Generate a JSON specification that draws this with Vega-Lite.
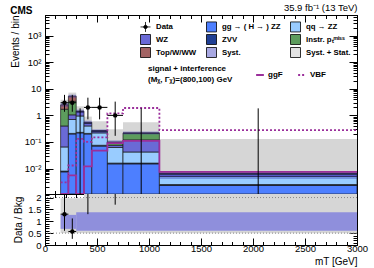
{
  "$schema": "https://vega.github.io/schema/vega-lite/v6.json",
  "background": "white",
  "padding": {"left": 9, "top": 2, "right": 4, "bottom": 0},
  "spacing": 0,
  "bounds": "flush",
  "config": {
    "font": "Liberation Sans",
    "view": {"stroke": "black", "strokeWidth": 1},
    "axis": {"grid": false, "domainColor": "black", "tickColor": "black", "labelColor": "black", "titleColor": "black", "labelFontSize": 9.5, "titleFontSize": 10, "titleFontWeight": "normal", "labelFont": "Liberation Sans", "titleFont": "Liberation Sans", "labelOverlap": false, "labelFlush": false}
  },
  "datasets": {
    "stack": [
      {"lo":150,"hi":225,"comp":"gg → ( H → ) ZZ","y0":0.0005,"y1":0.0075},
      {"lo":150,"hi":225,"comp":"ZVV","y0":0.0075,"y1":0.008},
      {"lo":150,"hi":225,"comp":"qq → ZZ","y0":0.008,"y1":0.065},
      {"lo":150,"hi":225,"comp":"WZ","y0":0.065,"y1":0.4},
      {"lo":150,"hi":225,"comp":"Instr. pₜᵐⁱˢˢ","y0":0.4,"y1":1.7},
      {"lo":150,"hi":225,"comp":"Top/W/WW","y0":1.7,"y1":2.5},
      {"lo":225,"hi":300,"comp":"gg → ( H → ) ZZ","y0":0.0005,"y1":0.2},
      {"lo":225,"hi":300,"comp":"ZVV","y0":0.2,"y1":0.21},
      {"lo":225,"hi":300,"comp":"qq → ZZ","y0":0.21,"y1":0.7},
      {"lo":225,"hi":300,"comp":"WZ","y0":0.7,"y1":1.05},
      {"lo":225,"hi":300,"comp":"Instr. pₜᵐⁱˢˢ","y0":1.05,"y1":3.4},
      {"lo":225,"hi":300,"comp":"Top/W/WW","y0":3.4,"y1":5.3},
      {"lo":300,"hi":375,"comp":"gg → ( H → ) ZZ","y0":0.0005,"y1":0.22},
      {"lo":300,"hi":375,"comp":"ZVV","y0":0.22,"y1":0.23},
      {"lo":300,"hi":375,"comp":"qq → ZZ","y0":0.23,"y1":0.95},
      {"lo":300,"hi":375,"comp":"WZ","y0":0.95,"y1":1.35},
      {"lo":300,"hi":375,"comp":"Instr. pₜᵐⁱˢˢ","y0":1.35,"y1":1.4},
      {"lo":300,"hi":375,"comp":"Top/W/WW","y0":1.4,"y1":1.45},
      {"lo":375,"hi":450,"comp":"gg → ( H → ) ZZ","y0":0.0005,"y1":0.2},
      {"lo":375,"hi":450,"comp":"ZVV","y0":0.2,"y1":0.21},
      {"lo":375,"hi":450,"comp":"qq → ZZ","y0":0.21,"y1":0.4},
      {"lo":375,"hi":450,"comp":"WZ","y0":0.4,"y1":0.5},
      {"lo":375,"hi":450,"comp":"Instr. pₜᵐⁱˢˢ","y0":0.5,"y1":0.52},
      {"lo":375,"hi":450,"comp":"Top/W/WW","y0":0.52,"y1":0.55},
      {"lo":450,"hi":600,"comp":"gg → ( H → ) ZZ","y0":0.0005,"y1":0.07},
      {"lo":450,"hi":600,"comp":"ZVV","y0":0.07,"y1":0.075},
      {"lo":450,"hi":600,"comp":"qq → ZZ","y0":0.075,"y1":0.22},
      {"lo":450,"hi":600,"comp":"WZ","y0":0.22,"y1":0.25},
      {"lo":450,"hi":600,"comp":"Instr. pₜᵐⁱˢˢ","y0":0.25,"y1":0.26},
      {"lo":450,"hi":600,"comp":"Top/W/WW","y0":0.26,"y1":0.265},
      {"lo":600,"hi":750,"comp":"gg → ( H → ) ZZ","y0":0.0005,"y1":0.015},
      {"lo":600,"hi":750,"comp":"ZVV","y0":0.015,"y1":0.016},
      {"lo":600,"hi":750,"comp":"qq → ZZ","y0":0.016,"y1":0.062},
      {"lo":600,"hi":750,"comp":"WZ","y0":0.062,"y1":0.075},
      {"lo":600,"hi":750,"comp":"Instr. pₜᵐⁱˢˢ","y0":0.075,"y1":0.095},
      {"lo":600,"hi":750,"comp":"Top/W/WW","y0":0.095,"y1":0.1},
      {"lo":750,"hi":1100,"comp":"gg → ( H → ) ZZ","y0":0.0005,"y1":0.015},
      {"lo":750,"hi":1100,"comp":"ZVV","y0":0.015,"y1":0.016},
      {"lo":750,"hi":1100,"comp":"qq → ZZ","y0":0.016,"y1":0.042},
      {"lo":750,"hi":1100,"comp":"WZ","y0":0.042,"y1":0.12},
      {"lo":750,"hi":1100,"comp":"Instr. pₜᵐⁱˢˢ","y0":0.12,"y1":0.21},
      {"lo":750,"hi":1100,"comp":"Top/W/WW","y0":0.21,"y1":0.22},
      {"lo":1100,"hi":3000,"comp":"gg → ( H → ) ZZ","y0":0.0005,"y1":0.0023},
      {"lo":1100,"hi":3000,"comp":"ZVV","y0":0.0023,"y1":0.0025},
      {"lo":1100,"hi":3000,"comp":"qq → ZZ","y0":0.0025,"y1":0.005},
      {"lo":1100,"hi":3000,"comp":"WZ","y0":0.005,"y1":0.006},
      {"lo":1100,"hi":3000,"comp":"Instr. pₜᵐⁱˢˢ","y0":0.006,"y1":0.0065},
      {"lo":1100,"hi":3000,"comp":"Top/W/WW","y0":0.0065,"y1":0.0068}
    ],
    "sysstat": [
      {"lo":150,"hi":225,"y0":1.8,"y1":3.9},
      {"lo":225,"hi":300,"y0":3.8,"y1":7.2},
      {"lo":300,"hi":375,"y0":1.0,"y1":2.2},
      {"lo":375,"hi":450,"y0":0.4,"y1":0.9},
      {"lo":450,"hi":600,"y0":0.18,"y1":0.6},
      {"lo":600,"hi":750,"y0":0.07,"y1":0.3},
      {"lo":750,"hi":1100,"y0":0.15,"y1":0.55},
      {"lo":1100,"hi":3000,"y0":0.0005,"y1":0.13}
    ],
    "syst": [
      {"lo":150,"hi":225,"y0":2.1,"y1":2.9},
      {"lo":225,"hi":300,"y0":4.6,"y1":6.0},
      {"lo":300,"hi":375,"y0":1.25,"y1":1.65},
      {"lo":375,"hi":450,"y0":0.47,"y1":0.63},
      {"lo":450,"hi":600,"y0":0.23,"y1":0.3},
      {"lo":600,"hi":750,"y0":0.085,"y1":0.115},
      {"lo":750,"hi":1100,"y0":0.19,"y1":0.25},
      {"lo":1100,"hi":3000,"y0":0.004,"y1":0.0072}
    ],
    "signal": [
      {"sig":"ggF","x":150,"v":0.0008},{"sig":"ggF","x":225,"v":0.0055},{"sig":"ggF","x":300,"v":0.0008},{"sig":"ggF","x":375,"v":0.012},{"sig":"ggF","x":450,"v":0.047},{"sig":"ggF","x":600,"v":0.09},{"sig":"ggF","x":750,"v":0.11},{"sig":"ggF","x":1100,"v":0.0075},{"sig":"ggF","x":3000,"v":0.0075},
      {"sig":"VBF","x":150,"v":0.003},{"sig":"VBF","x":225,"v":0.013},{"sig":"VBF","x":300,"v":0.13},{"sig":"VBF","x":375,"v":0.1},{"sig":"VBF","x":450,"v":0.15},{"sig":"VBF","x":600,"v":1.2},{"sig":"VBF","x":750,"v":1.9},{"sig":"VBF","x":1100,"v":0.28},{"sig":"VBF","x":3000,"v":0.28}
    ],
    "obs": [
      {"x":187.5,"lo":150,"hi":225,"n":3,"elo":1.37,"ehi":5.92},
      {"x":262.5,"lo":225,"hi":300,"n":3,"elo":1.37,"ehi":5.92},
      {"x":337.5,"lo":300,"hi":375,"n":0,"elo":0.0005,"ehi":1.84},
      {"x":412.5,"lo":375,"hi":450,"n":2,"elo":0.71,"ehi":4.64},
      {"x":525,"lo":450,"hi":600,"n":2,"elo":0.71,"ehi":4.64},
      {"x":675,"lo":600,"hi":750,"n":1,"elo":0.17,"ehi":3.3},
      {"x":925,"lo":750,"hi":1100,"n":0,"elo":0.0005,"ehi":1.84},
      {"x":2050,"lo":1100,"hi":3000,"n":0,"elo":0.0005,"ehi":1.84}
    ],
    "ratio": [
      {"x":187.5,"lo":150,"hi":225,"r":1.3,"elo":0.6,"ehi":2.57},
      {"x":262.5,"lo":225,"hi":300,"r":0.57,"elo":0.26,"ehi":1.12},
      {"x":412.5,"lo":375,"hi":450,"r":3.6,"elo":1.3,"ehi":8.4},
      {"x":675,"lo":600,"hi":750,"r":10,"elo":1.7,"ehi":33}
    ],
    "rsysstat": [
      {"lo":150,"hi":375,"y0":0.5,"y1":1.97},
      {"lo":375,"hi":3000,"y0":0.5,"y1":2.3}
    ],
    "rsyst": [
      {"lo":150,"hi":300,"y0":0.68,"y1":1.27},
      {"lo":300,"hi":3000,"y0":0.6,"y1":1.38}
    ],
    "rlines": [{"v":0.5},{"v":2}]
  },
  "vconcat": [
    {
      "width": 312,
      "height": 179,
      "title": {"text": "CMS", "anchor": "start", "fontSize": 10, "fontWeight": "bold", "font": "Liberation Sans", "offset": -13},
      "resolve": {"axis": {"x": "independent", "y": "independent"}},
      "layer": [
        {
          "data": {"name": "sysstat"},
          "mark": {"type": "rect", "fill": "#d6d6d6"},
          "encoding": {
            "x": {"field": "lo", "type": "quantitative", "scale": {"domain": [0, 3000], "nice": false, "zero": false},
              "axis": {"orient": "top", "title": "35.9 fb⁻¹ (13 TeV)", "titleAnchor": "end", "titleFontSize": 9.5, "titlePadding": 2, "labels": false,
                "values": [0,100,200,300,400,500,600,700,800,900,1000,1100,1200,1300,1400,1500,1600,1700,1800,1900,2000,2100,2200,2300,2400,2500,2600,2700,2800,2900,3000],
                "tickSize": {"condition": {"test": "datum.value % 500 == 0", "value": -7}, "value": -3.5}}},
            "x2": {"field": "hi"},
            "y": {"field": "y0", "type": "quantitative", "scale": {"type": "log", "domain": [0.0011, 6000], "clamp": true, "nice": false},
              "axis": {"orient": "left", "title": "Events / bin", "titleAnchor": "end", "titlePadding": 4,
                "values": [0.002,0.003,0.004,0.005,0.006,0.007,0.008,0.009,0.01,0.02,0.03,0.04,0.05,0.06,0.07,0.08,0.09,0.1,0.2,0.3,0.4,0.5,0.6,0.7,0.8,0.9,1,2,3,4,5,6,7,8,9,10,20,30,40,50,60,70,80,90,100,200,300,400,500,600,700,800,900,1000,2000,3000,4000,5000],
                "labelExpr": "abs(log(datum.value)/LN10 - round(log(datum.value)/LN10)) < 0.01 ? (datum.value > 500 ? '10³' : datum.value > 50 ? '10²' : datum.value > 5 ? '10' : datum.value > 0.5 ? '1' : datum.value > 0.05 ? '10⁻¹' : '10⁻²') : ''",
                "labelPadding": 12,
                "tickSize": {"condition": {"test": "abs(log(datum.value)/LN10 - round(log(datum.value)/LN10)) < 0.01", "value": -8}, "value": -4}}},
            "y2": {"field": "y1"}
          }
        },
        {
          "data": {"name": "stack"},
          "mark": {"type": "rect", "stroke": "#1a1a1a", "strokeWidth": 0.7},
          "encoding": {
            "x": {"field": "lo", "type": "quantitative", "scale": {"domain": [0, 3000], "nice": false, "zero": false},
              "axis": {"orient": "bottom", "title": null, "labels": false,
                "values": [0,100,200,300,400,500,600,700,800,900,1000,1100,1200,1300,1400,1500,1600,1700,1800,1900,2000,2100,2200,2300,2400,2500,2600,2700,2800,2900,3000],
                "tickSize": {"condition": {"test": "datum.value % 500 == 0", "value": -7}, "value": -3.5}}},
            "x2": {"field": "hi"},
            "y": {"field": "y0", "type": "quantitative", "scale": {"type": "log", "domain": [0.0011, 6000], "clamp": true, "nice": false},
              "axis": {"orient": "right", "title": null, "labels": false,
                "values": [0.002,0.003,0.004,0.005,0.006,0.007,0.008,0.009,0.01,0.02,0.03,0.04,0.05,0.06,0.07,0.08,0.09,0.1,0.2,0.3,0.4,0.5,0.6,0.7,0.8,0.9,1,2,3,4,5,6,7,8,9,10,20,30,40,50,60,70,80,90,100,200,300,400,500,600,700,800,900,1000,2000,3000,4000,5000],
                "tickSize": {"condition": {"test": "abs(log(datum.value)/LN10 - round(log(datum.value)/LN10)) < 0.01", "value": -8}, "value": -4}}},
            "y2": {"field": "y1"},
            "color": {"field": "comp", "type": "nominal",
              "scale": {"domain": ["Data", "WZ", "Top/W/WW", "gg → ( H → ) ZZ", "ZVV", "Syst.", "qq → ZZ", "Instr. pₜᵐⁱˢˢ", "Syst. + Stat."],
                        "range": ["#000000", "#6a6ad6", "#a36363", "#4d7fff", "#1f3f94", "#a8a8e2", "#99ccff", "#5d9c5d", "#e2e2e2"]},
              "legend": {"orient": "none", "legendX": 95, "legendY": 6, "columns": 3, "title": null, "gridAlign": "each",
                "symbolType": "square", "symbolSize": 100, "symbolStrokeColor": "black", "symbolStrokeWidth": 0.8, "symbolOpacity": 1,
                "labelFontSize": 7.8, "labelFontWeight": "bold", "labelFont": "Liberation Sans", "labelColor": "black", "labelOffset": 5, "rowPadding": -2, "columnPadding": 7, "padding": 0,
                "encode": {"symbols": {"update": {"shape": {"signal": "datum.value === 'Data' ? 'M-0.35,0A0.35,0.35,0,1,1,0.35,0A0.35,0.35,0,1,1,-0.35,0Z M-1,0L1,0 M0,-1L0,1' : 'square'"}}}}}}
          }
        },
        {
          "data": {"name": "syst"},
          "mark": {"type": "rect", "fill": "#3030b0", "opacity": 0.35},
          "encoding": {
            "x": {"field": "lo", "type": "quantitative", "scale": {"domain": [0, 3000], "nice": false, "zero": false}, "axis": null},
            "x2": {"field": "hi"},
            "y": {"field": "y0", "type": "quantitative", "scale": {"type": "log", "domain": [0.0011, 6000], "clamp": true, "nice": false}, "axis": null},
            "y2": {"field": "y1"}
          }
        },
        {
          "data": {"name": "signal"},
          "mark": {"type": "line", "interpolate": "step-after", "stroke": "#9b2f9b", "strokeWidth": 1.8, "clip": true},
          "encoding": {
            "x": {"field": "x", "type": "quantitative", "scale": {"domain": [0, 3000], "nice": false, "zero": false}, "axis": null},
            "y": {"field": "v", "type": "quantitative", "scale": {"type": "log", "domain": [0.0011, 6000], "clamp": true, "nice": false}, "axis": null},
            "strokeDash": {"field": "sig", "type": "nominal", "scale": {"domain": ["ggF", "VBF"], "range": [[1, 0], [2, 2]]},
              "legend": {"orient": "none", "legendX": 103, "legendY": 55, "direction": "horizontal",
                "title": ["signal + interference", "(Mᵪ, Γᵪ)=(800,100) GeV"], "titleOrient": "left", "titleFontSize": 8, "titleFontWeight": "bold", "titleColor": "black", "titleLineHeight": 11, "titlePadding": 22, "titleAngle": 0,
                "symbolType": "stroke", "symbolStrokeColor": "#9b2f9b", "symbolStrokeWidth": 2, "symbolSize": 60,
                "labelFontSize": 8, "labelFontWeight": "bold", "labelColor": "black", "labelOffset": 3, "columnPadding": 11, "padding": 0}}
          }
        },
        {
          "data": {"name": "obs"},
          "mark": {"type": "rule", "color": "black", "strokeWidth": 1},
          "encoding": {
            "x": {"field": "x", "type": "quantitative", "scale": {"domain": [0, 3000], "nice": false, "zero": false}, "axis": null},
            "y": {"field": "elo", "type": "quantitative", "scale": {"type": "log", "domain": [0.0011, 6000], "clamp": true, "nice": false}, "axis": null},
            "y2": {"field": "ehi"}
          }
        },
        {
          "data": {"name": "obs"},
          "transform": [{"filter": "datum.n > 0"}],
          "mark": {"type": "rule", "color": "black", "strokeWidth": 1},
          "encoding": {
            "x": {"field": "lo", "type": "quantitative", "scale": {"domain": [0, 3000], "nice": false, "zero": false}, "axis": null},
            "x2": {"field": "hi"},
            "y": {"field": "n", "type": "quantitative", "scale": {"type": "log", "domain": [0.0011, 6000], "clamp": true, "nice": false}, "axis": null}
          }
        },
        {
          "data": {"name": "obs"},
          "transform": [{"filter": "datum.n > 0"}],
          "mark": {"type": "point", "filled": true, "color": "black", "size": 20, "opacity": 1},
          "encoding": {
            "x": {"field": "x", "type": "quantitative", "scale": {"domain": [0, 3000], "nice": false, "zero": false}, "axis": null},
            "y": {"field": "n", "type": "quantitative", "scale": {"type": "log", "domain": [0.0011, 6000], "clamp": true, "nice": false}, "axis": null}
          }
        },
        {
          "mark": {"type": "text", "text": "2l2ν", "fontSize": 15, "align": "left", "baseline": "middle", "color": "black"},
          "encoding": {
            "x": {"datum": 115, "type": "quantitative", "scale": {"domain": [0, 3000], "nice": false, "zero": false}, "axis": null},
            "y": {"datum": 1750, "type": "quantitative", "scale": {"type": "log", "domain": [0.0011, 6000], "clamp": true, "nice": false}, "axis": null}
          }
        },
        {
          "mark": {"type": "text", "text": "μμ", "fontSize": 13, "fontStyle": "italic", "align": "left", "baseline": "middle", "color": "black"},
          "encoding": {
            "x": {"datum": 115, "type": "quantitative", "scale": {"domain": [0, 3000], "nice": false, "zero": false}, "axis": null},
            "y": {"datum": 550, "type": "quantitative", "scale": {"type": "log", "domain": [0.0011, 6000], "clamp": true, "nice": false}, "axis": null}
          }
        },
        {
          "mark": {"type": "text", "text": "VBF-tagged", "fontSize": 13, "fontWeight": "bold", "align": "left", "baseline": "middle", "color": "black"},
          "encoding": {
            "x": {"datum": 115, "type": "quantitative", "scale": {"domain": [0, 3000], "nice": false, "zero": false}, "axis": null},
            "y": {"datum": 150, "type": "quantitative", "scale": {"type": "log", "domain": [0.0011, 6000], "clamp": true, "nice": false}, "axis": null}
          }
        }
      ]
    },
    {
      "width": 312,
      "height": 51,
      "resolve": {"axis": {"x": "independent", "y": "independent"}},
      "layer": [
        {
          "data": {"name": "rsysstat"},
          "mark": {"type": "rect", "fill": "#d6d6d6"},
          "encoding": {
            "x": {"field": "lo", "type": "quantitative", "scale": {"domain": [0, 3000], "nice": false, "zero": false},
              "axis": {"orient": "bottom", "title": "mT [GeV]", "titleAnchor": "end", "titlePadding": 0, "format": "d",
                "values": [0,100,200,300,400,500,600,700,800,900,1000,1100,1200,1300,1400,1500,1600,1700,1800,1900,2000,2100,2200,2300,2400,2500,2600,2700,2800,2900,3000],
                "labelExpr": "datum.value % 500 == 0 ? datum.label : ''", "labelPadding": 5,
                "tickSize": {"condition": {"test": "datum.value % 500 == 0", "value": -7}, "value": -3.5}}},
            "x2": {"field": "hi"},
            "y": {"field": "y0", "type": "quantitative", "scale": {"domain": [0, 2.15], "clamp": true, "nice": false, "zero": false},
              "axis": {"orient": "left", "title": "Data / Bkg", "titlePadding": 4, "format": "~g",
                "values": [0,0.1,0.2,0.3,0.4,0.5,0.6,0.7,0.8,0.9,1,1.1,1.2,1.3,1.4,1.5,1.6,1.7,1.8,1.9,2,2.1],
                "labelExpr": "abs(datum.value*2 - round(datum.value*2)) < 0.01 ? datum.label : ''", "labelPadding": 12,
                "tickSize": {"condition": {"test": "abs(datum.value*2 - round(datum.value*2)) < 0.01", "value": -8}, "value": -4}}},
            "y2": {"field": "y1"}
          }
        },
        {
          "data": {"name": "rsyst"},
          "mark": {"type": "rect", "fill": "#8f8fdc"},
          "encoding": {
            "x": {"field": "lo", "type": "quantitative", "scale": {"domain": [0, 3000], "nice": false, "zero": false},
              "axis": {"orient": "top", "title": null, "labels": false,
                "values": [0,100,200,300,400,500,600,700,800,900,1000,1100,1200,1300,1400,1500,1600,1700,1800,1900,2000,2100,2200,2300,2400,2500,2600,2700,2800,2900,3000],
                "tickSize": {"condition": {"test": "datum.value % 500 == 0", "value": -7}, "value": -3.5}}},
            "x2": {"field": "hi"},
            "y": {"field": "y0", "type": "quantitative", "scale": {"domain": [0, 2.15], "clamp": true, "nice": false, "zero": false},
              "axis": {"orient": "right", "title": null, "labels": false,
                "values": [0,0.1,0.2,0.3,0.4,0.5,0.6,0.7,0.8,0.9,1,1.1,1.2,1.3,1.4,1.5,1.6,1.7,1.8,1.9,2,2.1],
                "tickSize": {"condition": {"test": "abs(datum.value*2 - round(datum.value*2)) < 0.01", "value": -8}, "value": -4}}},
            "y2": {"field": "y1"}
          }
        },
        {
          "data": {"name": "rlines"},
          "mark": {"type": "rule", "color": "#888888", "strokeDash": [1, 2], "strokeWidth": 1},
          "encoding": {
            "y": {"field": "v", "type": "quantitative", "scale": {"domain": [0, 2.15], "clamp": true, "nice": false, "zero": false}, "axis": null}
          }
        },
        {
          "data": {"name": "ratio"},
          "mark": {"type": "rule", "color": "black", "strokeWidth": 1},
          "encoding": {
            "x": {"field": "x", "type": "quantitative", "scale": {"domain": [0, 3000], "nice": false, "zero": false}, "axis": null},
            "y": {"field": "elo", "type": "quantitative", "scale": {"domain": [0, 2.15], "clamp": true, "nice": false, "zero": false}, "axis": null},
            "y2": {"field": "ehi"}
          }
        },
        {
          "data": {"name": "ratio"},
          "transform": [{"filter": "datum.r < 2.15"}],
          "mark": {"type": "rule", "color": "black", "strokeWidth": 1},
          "encoding": {
            "x": {"field": "lo", "type": "quantitative", "scale": {"domain": [0, 3000], "nice": false, "zero": false}, "axis": null},
            "x2": {"field": "hi"},
            "y": {"field": "r", "type": "quantitative", "scale": {"domain": [0, 2.15], "clamp": true, "nice": false, "zero": false}, "axis": null}
          }
        },
        {
          "data": {"name": "ratio"},
          "transform": [{"filter": "datum.r < 2.15"}],
          "mark": {"type": "point", "filled": true, "color": "black", "size": 20, "opacity": 1},
          "encoding": {
            "x": {"field": "x", "type": "quantitative", "scale": {"domain": [0, 3000], "nice": false, "zero": false}, "axis": null},
            "y": {"field": "r", "type": "quantitative", "scale": {"domain": [0, 2.15], "clamp": true, "nice": false, "zero": false}, "axis": null}
          }
        }
      ]
    }
  ]
}
